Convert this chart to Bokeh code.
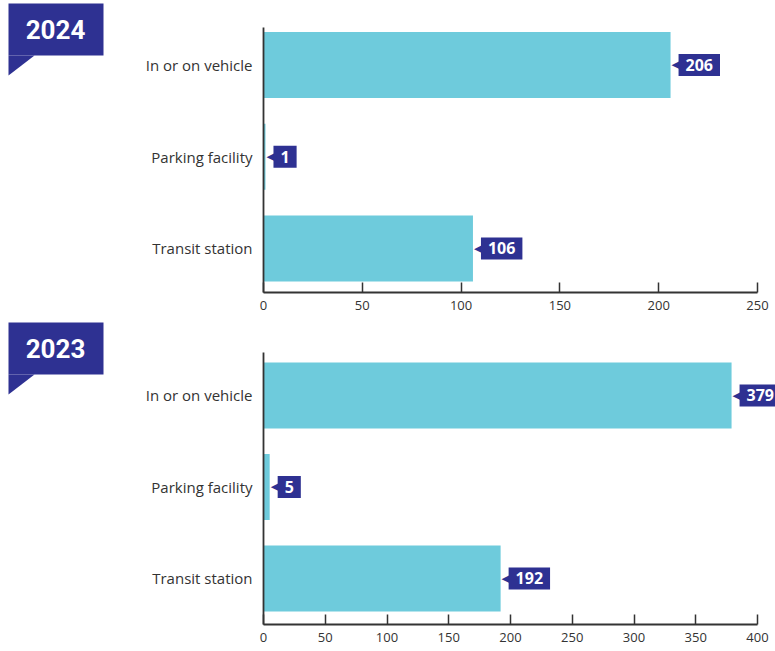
from bokeh.plotting import figure
from bokeh.layouts import row, column
from bokeh.models import Range1d, FixedTicker, ColumnDataSource
from bokeh.core.properties import value
from bokeh.embed import file_html
from bokeh.resources import INLINE

# ---------------- data ----------------
categories = ["In or on vehicle", "Parking facility", "Transit station"]
values_2024 = [206, 1, 106]
values_2023 = [379, 5, 192]
ticks_2024 = [0, 50, 100, 150, 200, 250]
ticks_2023 = [0, 50, 100, 150, 200, 250, 300, 350, 400]
year_top = "2024"
year_bottom = "2023"

BAR = "#6ecbdc"
NAVY = "#2e3192"
TXT = "#333333"
FONT = "Open Sans"

BADGE_W = 128
CHART_W = 647          # 128 + 647 = 775
MB_LEFT = 135          # frame left at page x 263
AXIS_PX = 494          # pixel length of the drawn x axis
FRAME_W = CHART_W - MB_LEFT


def style(p):
    p.grid.visible = False
    p.outline_line_color = None
    p.background_fill_color = "white"
    p.border_fill_color = "white"


def badge(year, height, mb_bottom, y0):
    fb = height - mb_bottom
    b = figure(width=BADGE_W, height=height, x_range=Range1d(0, BADGE_W),
               y_range=Range1d(fb, 0), output_backend="svg", toolbar_location=None,
               min_border_left=0, min_border_right=0, min_border_top=0,
               min_border_bottom=mb_bottom, x_axis_location=None, y_axis_location=None)
    style(b)
    b.quad(left=8, right=103, top=y0, bottom=y0 + 52, fill_color=NAVY, line_color=None)
    b.patch(x=[8, 34, 8], y=[y0 + 52, y0 + 52, y0 + 72], fill_color=NAVY, line_color=None)
    b.text(x=[55], y=[y0 + 26], text=[year], text_align="center", text_baseline="middle",
           text_color="white", text_font=value("Roboto"), text_font_style="bold",
           text_font_size="26px")
    return b


def chart(vals, ticks, height, mb_bottom, y_start, y_end, y_axis_top):
    n = len(categories)
    ypos = [n - 1 - i for i in range(n)]
    src = ColumnDataSource(dict(y=ypos, v=vals, label=[str(v) for v in vals],
                                arrow=["\u25C0"] * n))
    x_end = ticks[-1] * FRAME_W / AXIS_PX
    p = figure(width=CHART_W, height=height, x_range=Range1d(ticks[0], x_end),
               y_range=Range1d(y_start, y_end), output_backend="svg",
               toolbar_location=None, min_border_left=MB_LEFT, min_border_right=0,
               min_border_top=0, min_border_bottom=mb_bottom)
    style(p)

    p.hbar(y="y", left=0, right="v", height=0.72, source=src, fill_color=BAR, line_color=None)

    p.text(x="v", y="y", text="arrow", source=src, x_offset=1, text_align="left",
           text_baseline="middle", text_color=NAVY, text_font=value("DejaVu Sans"),
           text_font_size="11px")
    p.text(x="v", y="y", text="label", source=src, x_offset=8, text_align="left",
           text_baseline="middle", text_color="white", text_font=value(FONT),
           text_font_style="bold", text_font_size="16px",
           background_fill_color=NAVY, padding=(7, 5))

    xa = p.xaxis[0]
    xa.bounds = (ticks[0], ticks[-1])
    xa.ticker = FixedTicker(ticks=ticks)
    xa.minor_tick_line_color = None
    xa.major_tick_in = 10
    xa.major_tick_out = 0
    xa.major_tick_line_color = TXT
    xa.major_tick_line_width = 1.5
    xa.axis_line_color = TXT
    xa.axis_line_width = 1.8
    xa.major_label_standoff = 8
    xa.major_label_text_font = FONT
    xa.major_label_text_font_size = "13px"
    xa.major_label_text_color = TXT

    ya = p.yaxis[0]
    ya.bounds = (y_start, y_axis_top)
    ya.ticker = FixedTicker(ticks=ypos)
    ya.major_label_overrides = {ypos[i]: categories[i] for i in range(n)}
    ya.minor_tick_line_color = None
    ya.major_tick_line_color = None
    ya.major_tick_in = 0
    ya.major_tick_out = 0
    ya.axis_line_color = TXT
    ya.axis_line_width = 1.8
    ya.major_label_standoff = 11
    ya.major_label_text_font = FONT
    ya.major_label_text_font_size = "15px"
    ya.major_label_text_color = TXT
    return p


top = row(badge(year_top, 318, 26, 3),
          chart(values_2024, ticks_2024, 318, 26, -0.48, 2.703, 2.409))
bottom = row(badge(year_bottom, 333, 27, 4),
             chart(values_2023, ticks_2023, 333, 27, -0.503, 2.8415, 2.47))
layout = column(top, bottom)

open("out.html", "w").write(file_html(layout, INLINE))
